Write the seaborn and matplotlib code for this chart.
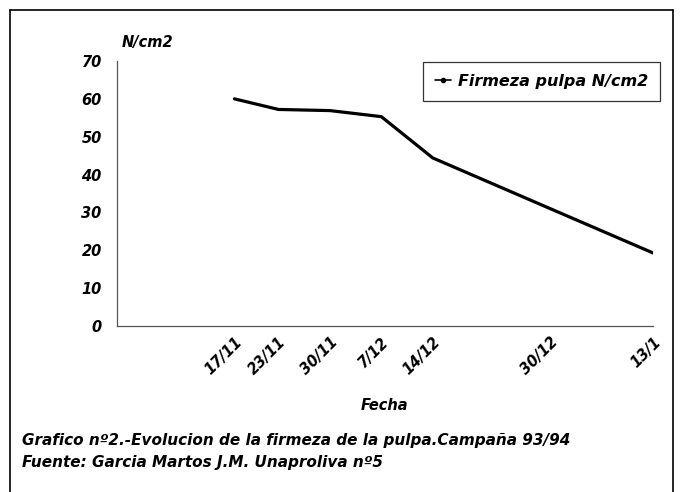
import pandas as pd
import matplotlib.pyplot as plt
import seaborn as sns
from matplotlib.lines import Line2D

# datos
fechas = ['1993-11-17', '1993-11-23', '1993-11-30', '1993-12-07',
          '1993-12-14', '1993-12-30', '1994-01-13']
etiquetas = ['17/11', '23/11', '30/11', '7/12', '14/12', '30/12', '13/1']
firmeza = [60, 57.2, 56.9, 55.3, 44.4, 31, 19.3]

df = pd.DataFrame({'Fecha': pd.to_datetime(fechas), 'Firmeza': firmeza})

sns.set_style('white')
plt.rcParams['font.family'] = ['DejaVu Sans']
plt.rcParams['text.color'] = 'black'
plt.rcParams['xtick.color'] = 'black'
plt.rcParams['ytick.color'] = 'black'
fuente = dict(weight='bold', style='italic')

W, H = 686, 492
fig = plt.figure(figsize=(W / 100, H / 100), dpi=100)
ax = fig.add_axes([117 / W, 1 - 326 / H, (653 - 117) / W, (326 - 61) / H])

sns.lineplot(data=df, x='Fecha', y='Firmeza', ax=ax, color='black', lw=2.3)

ax.set_xlim(pd.Timestamp('1993-11-01'), pd.Timestamp('1994-01-13'))
ax.set_ylim(0, 70)
ax.set_yticks(range(0, 71, 10))
ax.set_xticks(df['Fecha'])
ax.set_xticklabels(etiquetas, rotation=45, ha='right', rotation_mode='anchor')
for lab in ax.get_xticklabels() + ax.get_yticklabels():
    lab.set_fontsize(10.5)
    lab.set_fontweight('bold')
    lab.set_fontstyle('italic')
ax.tick_params(axis='y', length=4, color='#888888', pad=7)
ax.tick_params(axis='x', length=0, pad=6)
ax.set_xlabel('')
ax.set_ylabel('')
sns.despine(ax=ax)
for s in ['left', 'bottom']:
    ax.spines[s].set_color('#555555')
    ax.spines[s].set_linewidth(0.9)

muestra = Line2D([], [], color='black', lw=1.2, marker='o', markersize=3)
leg = ax.legend(handles=[muestra], labels=['Firmeza pulpa N/cm2'],
                loc='upper right', bbox_to_anchor=(1.013, 0.996), borderaxespad=0,
                frameon=True, fancybox=False, edgecolor='black', handlelength=1.0,
                handletextpad=0.4, borderpad=0.75, prop=dict(size=11.5, **fuente))
leg.get_frame().set_linewidth(0.9)

fig.text(148 / W, 1 - 42 / H, 'N/cm2', ha='center', va='center', fontsize=10.5, **fuente)
fig.text(385 / W, 1 - 405 / H, 'Fecha', ha='center', va='center', fontsize=10.5, **fuente)
fig.text(22 / W, 1 - 440 / H, 'Grafico nº2.-Evolucion de la firmeza de la pulpa.Campaña 93/94',
         ha='left', va='center', fontsize=11, **fuente)
fig.text(22 / W, 1 - 462 / H, 'Fuente: Garcia Martos J.M. Unaproliva nº5',
         ha='left', va='center', fontsize=11, **fuente)

# marco exterior
for xs, ys in [([10, 10], [10, H]), ([10, 673], [10, 10]), ([673, 673], [10, H])]:
    fig.add_artist(Line2D([x / W for x in xs], [1 - y / H for y in ys],
                          color='black', lw=1.2))

fig.savefig('out.png', dpi=100)
